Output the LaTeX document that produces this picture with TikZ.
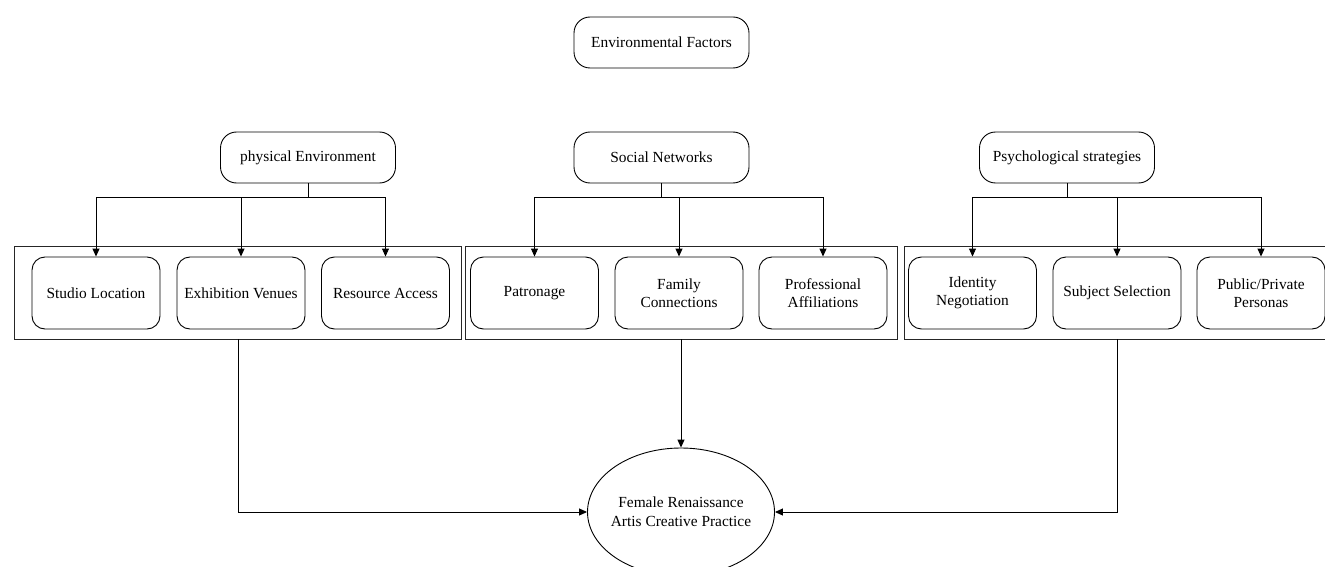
\documentclass[tikz,border=0pt]{standalone}
\usepackage{fontspec}
\setmainfont{Liberation Serif}
\usetikzlibrary{arrows.meta,shapes.geometric}
\begin{document}
\begin{tikzpicture}[x=1pt,y=-1pt,
  font=\fontsize{15.4}{18.5}\selectfont,
  line width=0.9pt,
  topbox/.style={draw, rounded corners=16pt, minimum width=175pt, minimum height=51pt, align=center, inner sep=2pt},
  childbox/.style={draw, rounded corners=13pt, minimum width=128pt, minimum height=72pt, align=center, inner sep=2pt},
  groupbox/.style={draw, line width=1pt, draw=black!85},
  arr/.style={-{Triangle[length=8pt,width=7pt]}},
  conn/.style={line width=0.9pt}
]
\useasboundingbox (0,0) rectangle (1325,567);
\clip (0,0) rectangle (1325,567);

% group frames
\draw[groupbox] (14,246) rectangle (461,339);
\draw[groupbox] (465,246) rectangle (897,339);
\draw[groupbox] (904,246) rectangle (1330,339);
\coordinate (g1) at (238,339);
\coordinate (g2) at (681,339);
\coordinate (g3) at (1117,339);

% top
\node[topbox] (env) at (661.5,42.5) {Environmental Factors};
\node[topbox] (phys) at (308,157.5) {physical Environment};
\node[topbox] (soc) at (661.5,157.5) {Social Networks};
\node[topbox] (psy) at (1067,157.5) {Psychological strategies};

% children
\node[childbox] (studio) at (96,293) {Studio Location};
\node[childbox] (exhib) at (241,293) {Exhibition Venues};
\node[childbox] (res) at (385.5,293) {Resource Access};
\node[childbox] (pat) at (534.5,293) {Patronage};
\node[childbox] (fam) at (679,293) {Family\\Connections};
\node[childbox] (prof) at (823,293) {Professional\\Affiliations};
\node[childbox] (ident) at (972.5,293) {Identity\\Negotiation};
\node[childbox] (subj) at (1117,293) {Subject Selection};
\node[childbox] (pub) at (1261,293) {Public/Private\\Personas};

% outcome
\node[draw, ellipse, minimum width=187pt, minimum height=128pt, inner sep=0pt,
  label={[align=center, font=\fontsize{15.4}{19}\selectfont]center:Female Renaissance\\Artis Creative Practice}] (out) at (681,512) {};

% branches
\foreach \p/\a/\b/\c in {phys/studio/exhib/res, soc/pat/fam/prof, psy/ident/subj/pub}{
  \draw[arr] (\p.south) -- ++(0,14) -| (\a.north);
  \draw[arr] (\p.south) -- ++(0,14) -| (\b.north);
  \draw[arr] (\p.south) -- ++(0,14) -| (\c.north);
}

% to outcome
\draw[arr] (g1) |- (out.west);
\draw[arr] (g2) -- (out.north);
\draw[arr] (g3) |- (out.east);
\end{tikzpicture}
\end{document}
